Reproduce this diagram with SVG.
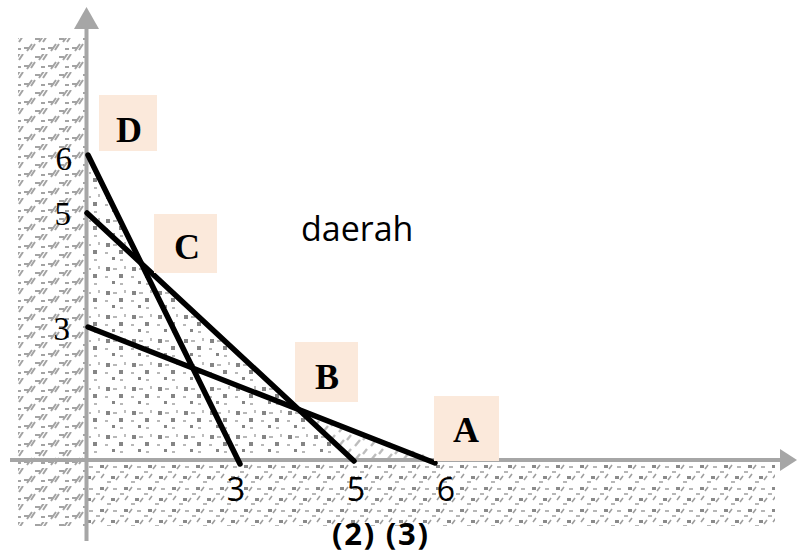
<svg xmlns="http://www.w3.org/2000/svg" width="797" height="555" viewBox="0 0 797 555">
<style>
.axis{stroke:#a6a6a6;stroke-width:4;fill:none}
.arrow{fill:#a6a6a6}
.ln{stroke:#000;stroke-width:5.5;stroke-linecap:round;fill:none}
.box{fill:#fbe9db}
.lbl{font-family:"Liberation Serif","Times New Roman",serif;font-weight:bold;font-size:36px;fill:#000;text-anchor:middle}
.ynum{font-family:"Liberation Serif","Times New Roman",serif;font-size:33px;fill:#000;text-anchor:end}
.xnum{font-family:"Open Sans","DejaVu Sans",sans-serif;font-size:32px;fill:#000;text-anchor:middle}
.sans{font-family:"Open Sans","DejaVu Sans",sans-serif;fill:#000}
</style>
<defs>
<pattern id="hatch" patternUnits="userSpaceOnUse" width="24" height="18">
<path d="M3 15 l5 -7 M7 14 l4 -6 M15 6 l5 -7 M19 6 l4 -6 M0 12 h5 M11 3 h5 M17 13 h4" stroke="#a3a3a3" stroke-width="2" fill="none"/>
</pattern>
<pattern id="dots" patternUnits="userSpaceOnUse" width="26" height="24">
<g fill="#858585">
<rect x="2" y="3" width="4" height="4"/>
<rect x="15" y="10" width="4" height="4"/>
<rect x="8" y="17" width="3" height="3"/>
</g>
<path d="M9 5 h4 M21 2 v3 M1 13 h3 M16 20 h3" stroke="#a0a0a0" stroke-width="1.4" fill="none"/>
</pattern>
<pattern id="bdots" patternUnits="userSpaceOnUse" width="24" height="22">
<g fill="#8a8a8a">
<rect x="4" y="3" width="4" height="3"/>
<rect x="15" y="14" width="4" height="3"/>
</g>
<path d="M9 7 l3 -4 M0 10 h4 M20 18 l3 -4 M11 20 h4 M17 5 h4 M5 16 l3 -4" stroke="#9e9e9e" stroke-width="1.6" fill="none"/>
</pattern>
<pattern id="light" patternUnits="userSpaceOnUse" width="16" height="14">
<path d="M3 12 l5 -6 M11 6 l4 -5" stroke="#bdbdbd" stroke-width="2.4" fill="none"/>
</pattern>
</defs>
<rect width="797" height="555" fill="#fff"/>
<g id="regions">
<rect id="left-region" x="18" y="38" width="68" height="488" fill="url(#hatch)"/>
<rect id="bottom-region" x="88" y="462" width="687" height="64" fill="url(#bdots)"/>
<polygon id="feasible" points="89,458 89,155 141.4,263.6 298.5,409.5 354,458" fill="url(#dots)"/>
<polygon id="between" points="298.5,409.5 354,458 433,458" fill="url(#light)"/>
</g>
<g id="axes">
<line class="axis" x1="10" y1="460" x2="782" y2="460"/>
<polygon class="arrow" points="780,449 797,460 780,471"/>
<line class="axis" x1="86.5" y1="541" x2="86.5" y2="27"/>
<polygon class="arrow" points="74,29 86.5,7 99,29"/>
</g>
<g id="connectors">
<line id="line-6-3" class="ln" x1="88" y1="155" x2="240" y2="464"/>
<line id="line-5-5" class="ln" x1="87" y1="213" x2="354" y2="461"/>
<line id="line-3-6" class="ln" x1="88" y1="327" x2="435" y2="463"/>
</g>
<g id="ticks">
<text class="ynum" x="72" y="170">6</text>
<text class="ynum" x="71" y="225">5</text>
<text class="ynum" x="70" y="340">3</text>
<text class="xnum" x="236" y="501">3</text>
<text class="xnum" x="356" y="501">5</text>
<text class="xnum" x="446" y="501">6</text>
</g>
<g id="node-D"><rect class="box" x="99" y="95" width="58" height="56"/><text class="lbl" x="129" y="142">D</text></g>
<g id="node-C"><rect class="box" x="154" y="214" width="63" height="59"/><text class="lbl" x="187" y="259">C</text></g>
<g id="node-B"><rect class="box" x="295" y="342" width="63" height="60"/><text class="lbl" x="327" y="389">B</text></g>
<g id="node-A"><rect class="box" x="434" y="396" width="65" height="65"/><text class="lbl" x="466" y="442">A</text></g>
<text id="daerah" class="sans" x="301" y="241" font-size="34">daerah</text>
<text id="eq" class="sans" x="332" y="545" font-size="31" font-weight="bold" textLength="96" lengthAdjust="spacing">(2) (3)</text>
</svg>
